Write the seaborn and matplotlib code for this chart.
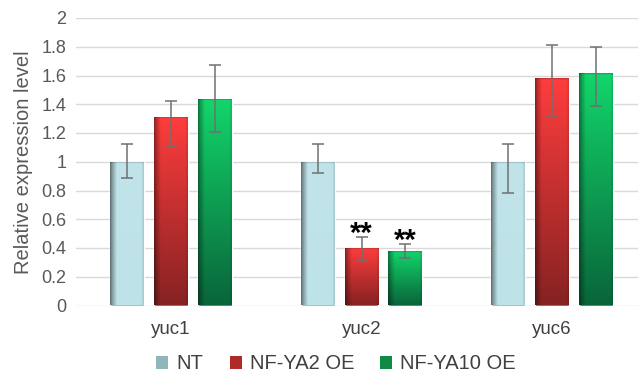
import numpy as np
import pandas as pd
import matplotlib
matplotlib.use("Agg")
import matplotlib.pyplot as plt
import seaborn as sns
from matplotlib.patches import Patch
from matplotlib.colors import to_rgb

# Expression data (relative to NT)
genes = ["yuc1", "yuc2", "yuc6"]
lines = ["NT", "NF-YA2 OE", "NF-YA10 OE"]
nt_vals = [1.00, 1.00, 1.00]
ya2_vals = [1.31, 0.40, 1.58]
ya10_vals = [1.44, 0.38, 1.62]
# upper / lower error bar extents
nt_err_hi = [0.12, 0.12, 0.12]
nt_err_lo = [0.11, 0.08, 0.22]
ya2_err_hi = [0.11, 0.08, 0.23]
ya2_err_lo = [0.21, 0.09, 0.26]
ya10_err_hi = [0.23, 0.05, 0.18]
ya10_err_lo = [0.23, 0.05, 0.23]
signif = {("yuc2", "NF-YA2 OE"): "**", ("yuc2", "NF-YA10 OE"): "**"}

sns.set_theme(style="white")
plt.rcParams["font.family"] = ["Liberation Sans", "DejaVu Sans"]

df = pd.DataFrame({
    "gene": genes * 3,
    "line": [l for l in lines for _ in genes],
    "value": nt_vals + ya2_vals + ya10_vals,
})
err_hi = {"NT": nt_err_hi, "NF-YA2 OE": ya2_err_hi, "NF-YA10 OE": ya10_err_hi}
err_lo = {"NT": nt_err_lo, "NF-YA2 OE": ya2_err_lo, "NF-YA10 OE": ya10_err_lo}

# gradient specs: (top colour, bottom colour, left-edge darkening)
grad = {
    "NT": ("#c0e4e9", "#bde2e7", 0.48),
    "NF-YA2 OE": ("#ff3d3d", "#862222", 0.55),
    "NF-YA10 OE": ("#13d66b", "#09653a", 0.55),
}
legend_cols = {"NT": "#8fb6ba", "NF-YA2 OE": "#b02a2a", "NF-YA10 OE": "#108a45"}

W, H = 638, 376
fig = plt.figure(figsize=(W / 100, H / 100), dpi=100)
ax_left, ax_right = 76, 647
ax_bot, ax_top = 376 - 305.5, 376 - 18
ax = fig.add_axes([ax_left / W, ax_bot / H, (ax_right - ax_left) / W, (ax_top - ax_bot) / H])

sns.barplot(data=df, x="gene", y="value", hue="line", order=genes, hue_order=lines,
            palette=legend_cols, width=0.693, gap=0.227, errorbar=None,
            legend=False, ax=ax, zorder=2)

ax.set_ylim(0, 2)
ax.set_xlim(-0.5, 2.5)
ax.set_yticks(np.arange(0, 2.01, 0.2))
ax.set_yticklabels(["0", "0.2", "0.4", "0.6", "0.8", "1", "1.2", "1.4", "1.6", "1.8", "2"])
ax.yaxis.grid(True, color="#d9d9d9", lw=1.0, zorder=0)
ax.set_axisbelow(True)
for s in ax.spines.values():
    s.set_visible(False)
ax.tick_params(axis="y", length=0, pad=7, labelsize=13, labelcolor="#595959")
ax.tick_params(axis="x", length=0, pad=11, labelsize=13.5, labelcolor="#404040")
ax.set_xlabel("")
ax.set_ylabel("Relative expression level", fontsize=14.5, color="#595959", labelpad=6)

px_per_unit = (ax_top - ax_bot) / 2.0
nrow, ncol = 200, 60
patches = list(ax.patches)
idx = 0
for li, line in enumerate(lines):
    top_c, bot_c, edge = grad[line]
    tc, bc = np.array(to_rgb(top_c)), np.array(to_rgb(bot_c))
    for gi, gene in enumerate(genes):
        p = patches[idx]
        idx += 1
        x0, w = p.get_x(), p.get_width()
        h = p.get_height()
        # vertical blend
        t = np.linspace(0, 1, nrow)[:, None, None]
        img = tc * (1 - t) + bc * t
        img = np.repeat(img, ncol, axis=1)
        # darker left edge, slight right edge
        xf = np.linspace(0, 1, ncol)
        shade = np.ones(ncol)
        m = xf < 0.2
        shade[m] = edge + (1 - edge) * (xf[m] / 0.2) ** 0.8
        r = xf > 0.93
        shade[r] = 1 - 0.12 * (xf[r] - 0.93) / 0.07
        img = img * shade[None, :, None]
        # thin shadow along the top edge
        band = max(1, int(round(nrow * 3.0 / (h * px_per_unit))))
        fade = np.linspace(0.7, 1.0, band)
        img[:band] = img[:band] * fade[:, None, None]
        im = ax.imshow(np.clip(img, 0, 1), extent=[x0, x0 + w, 0, h], origin="upper",
                       aspect="auto", interpolation="bilinear", zorder=2.5)
        im.set_clip_path(p)
        # error bar
        xc = x0 + w / 2
        ax.errorbar(xc, h, yerr=[[err_lo[line][gi]], [err_hi[line][gi]]], fmt="none",
                    ecolor="#707070", elinewidth=1.1, capsize=4, capthick=1.1, zorder=3)
        mark = signif.get((gene, line))
        if mark:
            ax.annotate(mark, (xc, h + err_hi[line][gi]), xytext=(0, -8),
                        textcoords="offset points", ha="center", va="bottom",
                        fontsize=21, fontweight="bold", color="black", zorder=4)

ax.set_xlim(-0.5, 2.5)
ax.set_ylim(0, 2)

handles = [Patch(facecolor=legend_cols[l], edgecolor="none", label=l) for l in lines]
fig.legend(handles=handles, loc="center", bbox_to_anchor=(0.527, 0.032), ncol=3,
           frameon=False, fontsize=14.5, handlelength=0.6, handleheight=0.6,
           handletextpad=0.4, columnspacing=1.3, labelcolor="#404040",
           borderpad=0.2)

fig.savefig("out.png", dpi=100)
